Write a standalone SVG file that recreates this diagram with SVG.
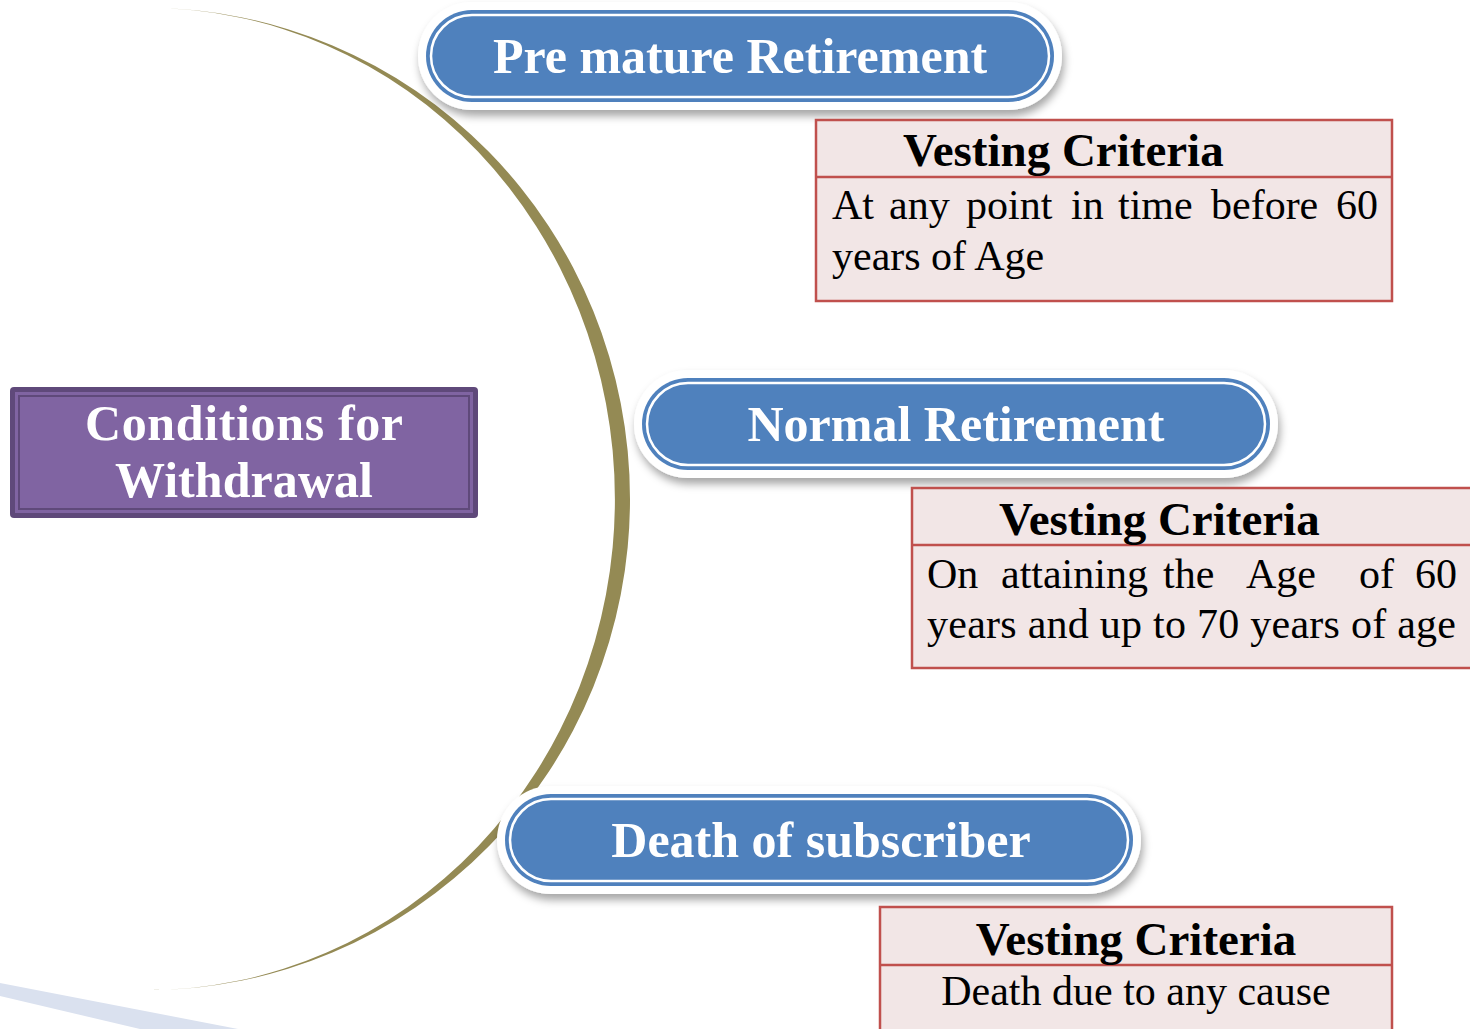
<svg xmlns="http://www.w3.org/2000/svg" width="1470" height="1029" viewBox="0 0 1470 1029">
<defs>
<filter id="sh" x="-10%" y="-30%" width="120%" height="170%">
<feDropShadow dx="2" dy="6" stdDeviation="4" flood-color="#000" flood-opacity="0.35"/>
</filter>
<style>
.pillOut{fill:#fff;filter:url(#sh)}
.pill{fill:#4f81bd}
.pillIn{fill:none;stroke:#fff;stroke-width:2.5}
.pt{font-family:"Liberation Serif",serif;font-weight:bold;font-size:50px;fill:#fff;text-anchor:middle}
.tb{fill:#f2e6e6;stroke:#c0504d;stroke-width:2.5}
.th{font-family:"Liberation Serif",serif;font-weight:bold;font-size:47px;fill:#000}
.td{font-family:"Liberation Serif",serif;font-size:42px;fill:#000}
</style>
</defs>
<rect width="1470" height="1029" fill="#fff"/>
<polygon points="0,983 238,1029 140,1029 0,996" fill="#dae1ef"/>
<g id="connectors">
<path d="M148,8 A482,491 0 0 1 148,990 A465,489 0 0 0 148,8 Z" fill="#948a54"/>
</g>
<g id="root">
<rect x="10" y="387" width="468" height="131" rx="4" fill="#5f497a"/>
<rect x="15" y="392" width="458" height="121" fill="#8064a2"/>
<rect x="19" y="396" width="450" height="113" fill="#8064a2" stroke="#5f497a" stroke-width="2"/>
<text x="244" y="440" class="pt" textLength="318" lengthAdjust="spacing">Conditions for</text>
<text x="244" y="497" class="pt" textLength="258" lengthAdjust="spacing">Withdrawal</text>
</g>
<g id="pill1">
<rect class="pillOut" x="418" y="2" width="644" height="108" rx="54"/>
<rect class="pill" x="426" y="10" width="628" height="92" rx="46"/>
<rect class="pillIn" x="431" y="15" width="618" height="82" rx="41"/>
<text class="pt" x="740" y="73">Pre mature Retirement</text>
</g>
<g id="pill2">
<rect class="pillOut" x="634" y="370" width="644" height="108" rx="54"/>
<rect class="pill" x="642" y="378" width="628" height="92" rx="46"/>
<rect class="pillIn" x="647" y="383" width="618" height="82" rx="41"/>
<text class="pt" x="956" y="441">Normal Retirement</text>
</g>
<g id="pill3">
<rect class="pillOut" x="497" y="786" width="644" height="108" rx="54"/>
<rect class="pill" x="505" y="794" width="628" height="92" rx="46"/>
<rect class="pillIn" x="510" y="799" width="618" height="82" rx="41"/>
<text class="pt" x="821" y="857">Death of subscriber</text>
</g>
<g id="table1">
<rect class="tb" x="816" y="120" width="576" height="181"/>
<line x1="816" y1="177" x2="1392" y2="177" stroke="#c0504d" stroke-width="2.5"/>
<text class="th" x="903" y="166">Vesting Criteria</text>
<text class="td" y="219"><tspan x="832">At</tspan><tspan x="889">any</tspan><tspan x="966">point</tspan><tspan x="1071">in</tspan><tspan x="1118">time</tspan><tspan x="1211">before</tspan><tspan x="1336">60</tspan></text>
<text class="td" x="832" y="270">years of Age</text>
</g>
<g id="table2">
<rect class="tb" x="912" y="488" width="580" height="180"/>
<line x1="912" y1="545" x2="1492" y2="545" stroke="#c0504d" stroke-width="2.5"/>
<text class="th" x="999" y="535">Vesting Criteria</text>
<text class="td" y="588"><tspan x="927">On</tspan><tspan x="1001">attaining</tspan><tspan x="1163">the</tspan><tspan x="1246">Age</tspan><tspan x="1359">of</tspan><tspan x="1415">60</tspan></text>
<text class="td" x="927" y="638" textLength="529" lengthAdjust="spacing">years and up to 70 years of age</text>
</g>
<g id="table3">
<rect class="tb" x="880" y="907" width="512" height="140"/>
<line x1="880" y1="965" x2="1392" y2="965" stroke="#c0504d" stroke-width="2.5"/>
<text class="th" x="1136" y="955" text-anchor="middle">Vesting Criteria</text>
<text class="td" x="1136" y="1005" text-anchor="middle">Death due to any cause</text>
</g>
</svg>
